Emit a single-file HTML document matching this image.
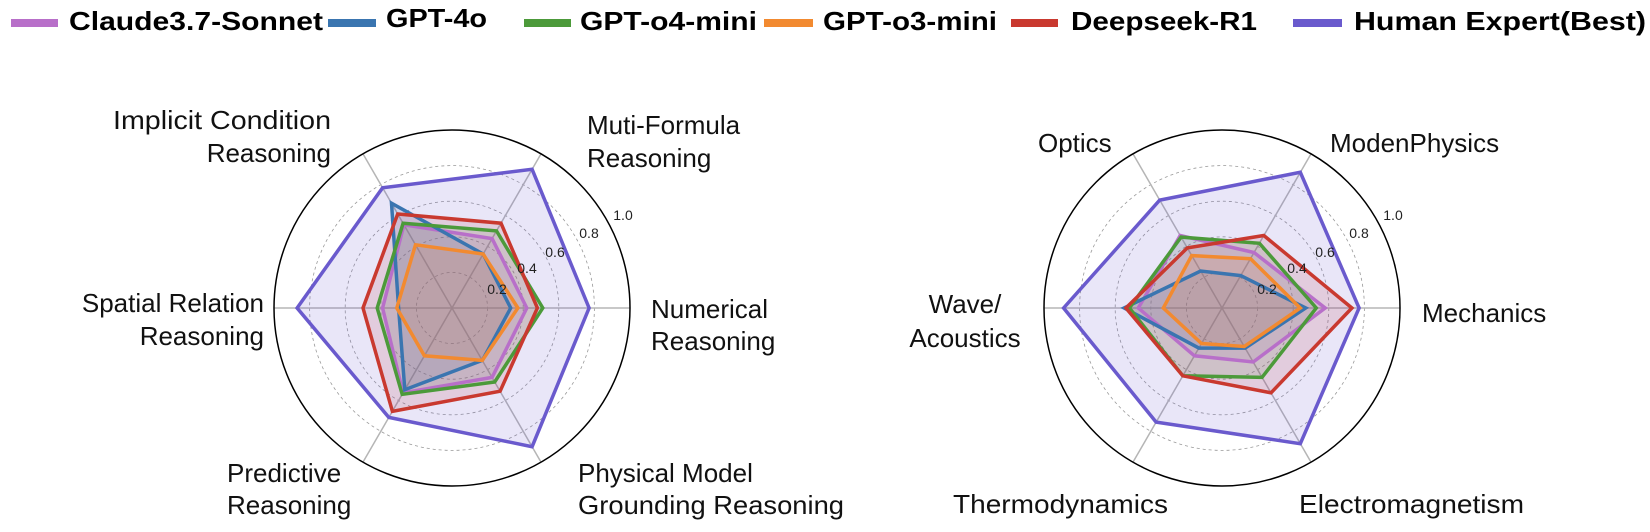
<!DOCTYPE html>
<html><head><meta charset="utf-8"><style>
html,body{margin:0;padding:0;background:#fff;}
svg{display:block;}
text{font-family:"Liberation Sans",sans-serif;}
</style></head><body>
<svg id="s" width="1650" height="532" viewBox="0 0 1650 532" xmlns="http://www.w3.org/2000/svg">
<g font-weight="bold" font-size="26" fill="#000">
<rect x="11" y="19" width="47" height="8" fill="#b86fc9"/>
<text x="69" y="30" textLength="254" lengthAdjust="spacingAndGlyphs">Claude3.7-Sonnet</text>
<rect x="328" y="19" width="48" height="8" fill="#3a75b0"/>
<text x="386" y="27" textLength="101" lengthAdjust="spacingAndGlyphs">GPT-4o</text>
<rect x="524" y="19" width="47" height="8" fill="#4c9a3a"/>
<text x="580" y="30" textLength="177" lengthAdjust="spacingAndGlyphs">GPT-o4-mini</text>
<rect x="764" y="19" width="49" height="8" fill="#f28a30"/>
<text x="823" y="30" textLength="174" lengthAdjust="spacingAndGlyphs">GPT-o3-mini</text>
<rect x="1011" y="19" width="47" height="8" fill="#c9392f"/>
<text x="1071" y="30" textLength="186" lengthAdjust="spacingAndGlyphs">Deepseek-R1</text>
<rect x="1293" y="19" width="49" height="8" fill="#6a5acd"/>
<text x="1354" y="30" textLength="292" lengthAdjust="spacingAndGlyphs">Human Expert(Best)</text>
</g>
<g font-size="26" fill="#111">
<text x="331" y="129" text-anchor="end" textLength="218" lengthAdjust="spacingAndGlyphs">Implicit Condition</text>
<text x="331" y="162" text-anchor="end">Reasoning</text>
<text x="587" y="134">Muti-Formula</text>
<text x="587" y="167">Reasoning</text>
<text x="651" y="318">Numerical</text>
<text x="651" y="350">Reasoning</text>
<text x="264" y="312" text-anchor="end">Spatial Relation</text>
<text x="264" y="345" text-anchor="end">Reasoning</text>
<text x="227" y="482">Predictive</text>
<text x="227" y="514">Reasoning</text>
<text x="578" y="482">Physical Model</text>
<text x="578" y="514" textLength="266" lengthAdjust="spacingAndGlyphs">Grounding Reasoning</text>
<text x="1038" y="152">Optics</text>
<text x="1330" y="152">ModenPhysics</text>
<text x="1422" y="322">Mechanics</text>
<text x="965" y="313" text-anchor="middle">Wave/</text>
<text x="965" y="347" text-anchor="middle">Acoustics</text>
<text x="953" y="513" textLength="215" lengthAdjust="spacingAndGlyphs">Thermodynamics</text>
<text x="1299" y="513" textLength="225" lengthAdjust="spacingAndGlyphs">Electromagnetism</text>
</g>
<g id="charts"></g>
</svg>
<script>
var NS="http://www.w3.org/2000/svg",g=document.getElementById("charts");
function el(t,a,p){var e=document.createElementNS(NS,t);for(var k in a)e.setAttribute(k,a[k]);(p||g).appendChild(e);return e;}
var R=178,cols=["#b86fc9","#3a75b0","#4c9a3a","#f28a30","#c9392f","#6a5acd"];
var charts=[
 {cx:452,cy:308,d:[
  [0.42,0.45,0.54,0.39,0.55,0.45],
  [0.33,0.35,0.68,0.30,0.53,0.34],
  [0.51,0.50,0.55,0.42,0.56,0.48],
  [0.37,0.35,0.41,0.31,0.31,0.34],
  [0.48,0.55,0.61,0.50,0.67,0.54],
  [0.77,0.90,0.78,0.87,0.71,0.90]]},
 {cx:1222,cy:308,d:[
  [0.58,0.36,0.47,0.47,0.31,0.35],
  [0.47,0.21,0.24,0.55,0.26,0.26],
  [0.53,0.42,0.46,0.52,0.44,0.45],
  [0.44,0.32,0.34,0.33,0.23,0.25],
  [0.73,0.47,0.39,0.54,0.44,0.55],
  [0.77,0.88,0.70,0.89,0.74,0.88]]}];
charts.forEach(function(c){
 [0.2,0.4,0.6,0.8].forEach(function(v){el("circle",{cx:c.cx,cy:c.cy,r:R*v,fill:"none",stroke:"#999","stroke-width":0.8,"stroke-dasharray":"3,3"});});
 for(var i=0;i<6;i++){var a=i*Math.PI/3;el("line",{x1:c.cx,y1:c.cy,x2:c.cx+R*Math.cos(a),y2:c.cy-R*Math.sin(a),stroke:"#b5b5b5","stroke-width":1.5});}
 c.d.forEach(function(vals,k){
  var pts=vals.map(function(v,i){var a=i*Math.PI/3;return (c.cx+R*v*Math.cos(a)).toFixed(1)+","+(c.cy-R*v*Math.sin(a)).toFixed(1);}).join(" ");
  el("polygon",{points:pts,fill:cols[k],"fill-opacity":0.15,stroke:"none"});
 });
 c.d.forEach(function(vals,k){
  var pts=vals.map(function(v,i){var a=i*Math.PI/3;return (c.cx+R*v*Math.cos(a)).toFixed(1)+","+(c.cy-R*v*Math.sin(a)).toFixed(1);}).join(" ");
  el("polygon",{points:pts,fill:"none",stroke:cols[k],"stroke-width":3.5,"stroke-linejoin":"miter"});
 });
 el("circle",{cx:c.cx,cy:c.cy,r:R,fill:"none",stroke:"#000","stroke-width":1.5});
 var off=c.cx-452;
 [["0.2",497,294],["0.4",527,273],["0.6",555,257],["0.8",589,238],["1.0",623,220]].forEach(function(t){
  var e=el("text",{x:t[1]+off,y:t[2],"text-anchor":"middle","font-size":14,fill:"#222"});e.textContent=t[0];});
});
</script>
</body></html>
